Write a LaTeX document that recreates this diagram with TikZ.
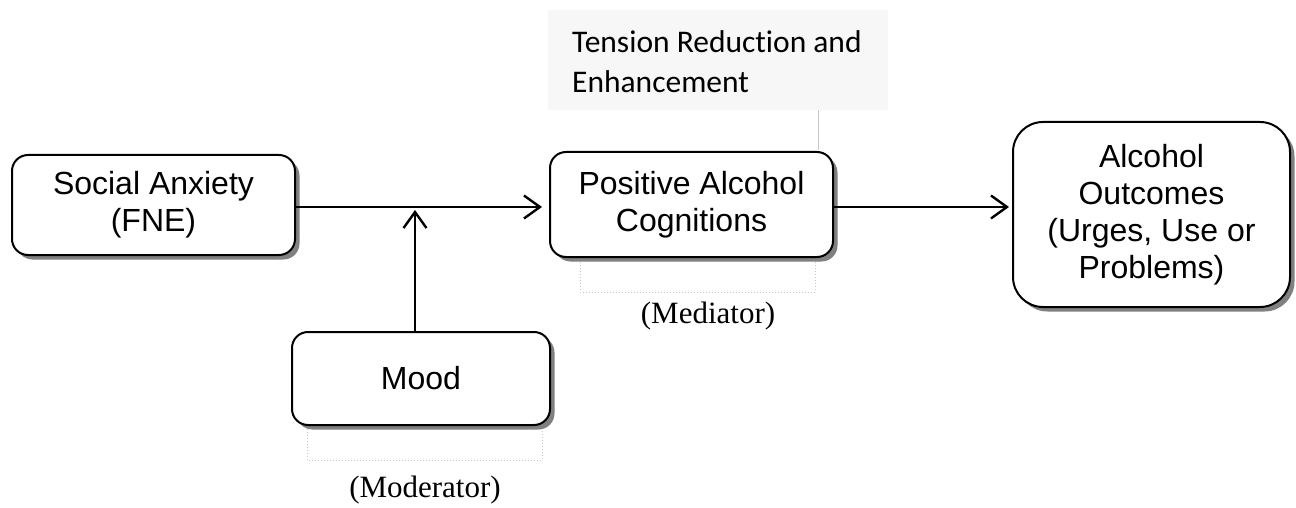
\documentclass[tikz,border=0pt]{standalone}
\usepackage{fontspec}
\setmainfont{Liberation Sans}
\newfontfamily\serifface{Liberation Serif}
\newfontfamily\calface[RawFeature={-liga;-clig;-dlig}]{Carlito}
\usetikzlibrary{arrows.meta,shadows}
\definecolor{tbfill}{HTML}{F7F7F7}
\definecolor{dotgray}{HTML}{C8C8C8}
\begin{document}
\begin{tikzpicture}[x=1pt,y=-1pt,
  box/.style={draw=black, line width=2pt, fill=white, rounded corners=16pt,
    align=center, inner sep=0pt, font=\fontsize{32}{37}\selectfont,
    drop shadow={shadow xshift=4.5pt, shadow yshift=-4.5pt, fill=black!50, opacity=1}},
  conn/.style={line width=2.4pt, -{Straight Barb[length=16pt,width=23pt,line width=2.4pt]}},
  dotbox/.style={draw=dotgray, dotted, line width=1pt},
  lab/.style={font=\serifface\fontsize{31}{34}\selectfont, inner sep=0pt}
]
\useasboundingbox (0,0) rectangle (1296,508);
% label boxes (dotted)
\draw[dotbox] (580,250) rectangle (815,292);
\draw[dotbox] (307,420) rectangle (542,460);
% tension box
\node[fill=tbfill, minimum width=340pt, minimum height=100pt, inner sep=0pt, anchor=north west] (tens) at (548,10) {};
\node[font=\calface\fontsize{31.5}{40}\selectfont, align=left, anchor=north west, inner sep=0pt] (tenstxt) at (572,30) {Tension Reduct\kern0pt ion and\\Enhancement};
\coordinate (tl) at (818,110);
\coordinate (tl2) at (818,150);
\draw[dotgray, line width=0.8pt] (tl) -- (tl2);
% boxes
\node[box, minimum width=283pt, minimum height=100pt] (soc) at (153.5,205) {Social Anxiety\\(FNE)};
\node[box, minimum width=283pt, minimum height=105pt] (pos) at (691.5,204.5) {Positive Alcohol\\Cognitions};
\node[box, rounded corners=30pt, minimum width=277pt, minimum height=185pt] (alc) at (1151.5,214.5) {Alcohol\\Outcomes\\(Urges, Use or\\Problems)};
\node[box, minimum width=258pt, minimum height=93pt] (mood) at (421,378.5) {Mood};
% labels
\node[lab] (med) at (708,316) {(Mediator)};
\node[lab] (mod) at (425,490) {(Moderator)};
% connectors
\coordinate (junc) at (415,207);
\coordinate (moodtop) at (415,332);
\draw[conn, shorten >=7pt] (soc.east |- 0,207) -- (pos.west |- 0,207);
\draw[conn, shorten >=3pt] (pos.east |- 0,207) -- (alc.west |- 0,207);
\draw[conn, shorten >=3pt] (moodtop) -- (junc);
\end{tikzpicture}
\end{document}
